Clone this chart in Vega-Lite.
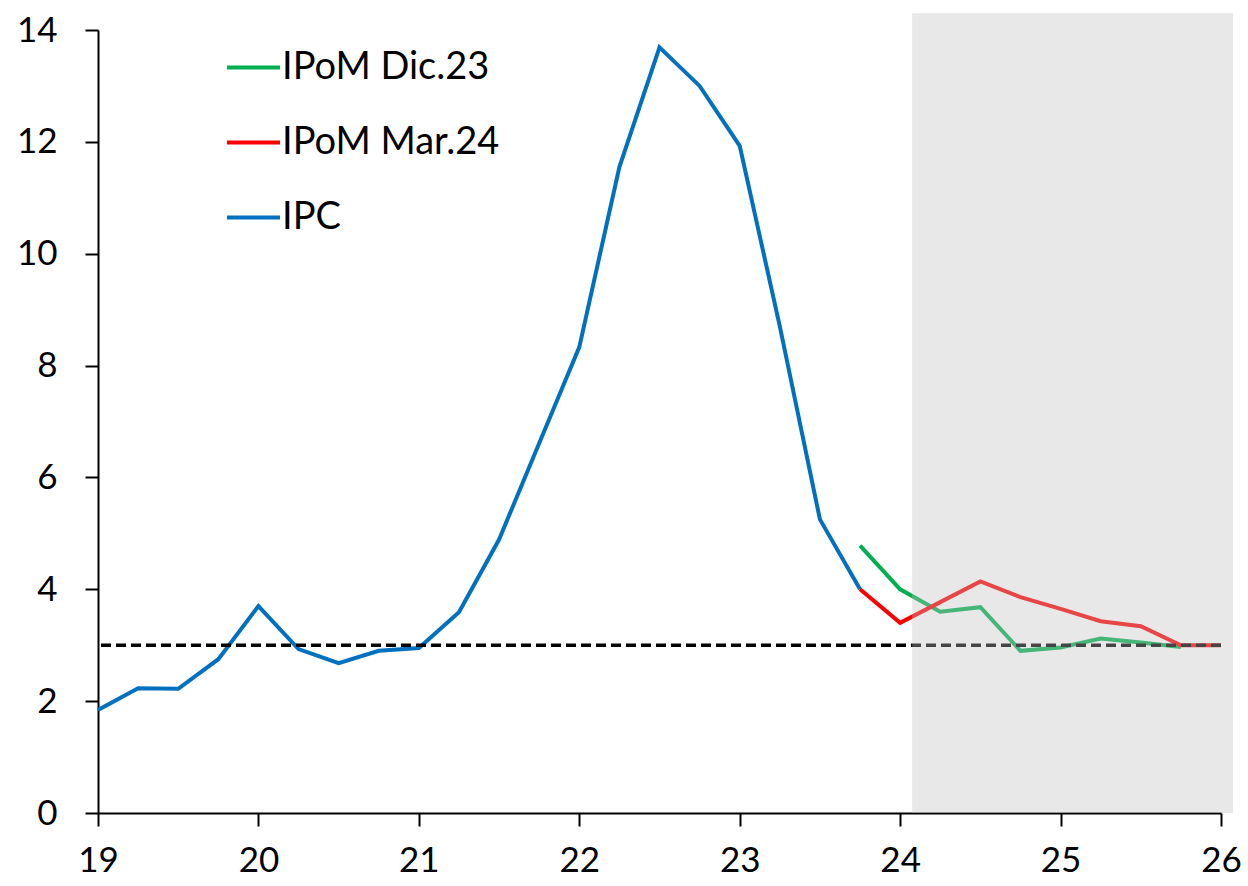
{
  "$schema": "https://vega.github.io/schema/vega-lite/v6.json",
  "width": 1123,
  "height": 783,
  "autosize": "none",
  "padding": {"left": 98, "top": 30, "right": 27, "bottom": 73},
  "background": "white",
  "config": {
    "view": {"stroke": null},
    "font": "Lato",
    "axis": {"grid": false, "domainColor": "black", "domainWidth": 2, "tickColor": "black", "tickWidth": 2, "tickSize": 13, "labelFontSize": 35, "labelColor": "black", "labelFont": "Lato", "title": null, "zindex": 1}
  },
  "datasets": {
    "series": [
      {"t": 19.0, "v": 1.84, "s": "IPC"},
      {"t": 19.25, "v": 2.23, "s": "IPC"},
      {"t": 19.5, "v": 2.22, "s": "IPC"},
      {"t": 19.75, "v": 2.75, "s": "IPC"},
      {"t": 20.0, "v": 3.70, "s": "IPC"},
      {"t": 20.25, "v": 2.93, "s": "IPC"},
      {"t": 20.5, "v": 2.68, "s": "IPC"},
      {"t": 20.75, "v": 2.90, "s": "IPC"},
      {"t": 21.0, "v": 2.95, "s": "IPC"},
      {"t": 21.25, "v": 3.59, "s": "IPC"},
      {"t": 21.5, "v": 4.89, "s": "IPC"},
      {"t": 21.75, "v": 6.61, "s": "IPC"},
      {"t": 22.0, "v": 8.33, "s": "IPC"},
      {"t": 22.25, "v": 11.55, "s": "IPC"},
      {"t": 22.5, "v": 13.69, "s": "IPC"},
      {"t": 22.75, "v": 13.0, "s": "IPC"},
      {"t": 23.0, "v": 11.93, "s": "IPC"},
      {"t": 23.25, "v": 8.7, "s": "IPC"},
      {"t": 23.5, "v": 5.25, "s": "IPC"},
      {"t": 23.75, "v": 4.0, "s": "IPC"},
      {"t": 23.75, "v": 4.78, "s": "IPoM Dic.23"},
      {"t": 24.0, "v": 4.0, "s": "IPoM Dic.23"},
      {"t": 24.25, "v": 3.60, "s": "IPoM Dic.23"},
      {"t": 24.5, "v": 3.68, "s": "IPoM Dic.23"},
      {"t": 24.75, "v": 2.90, "s": "IPoM Dic.23"},
      {"t": 25.0, "v": 2.96, "s": "IPoM Dic.23"},
      {"t": 25.25, "v": 3.12, "s": "IPoM Dic.23"},
      {"t": 25.5, "v": 3.05, "s": "IPoM Dic.23"},
      {"t": 25.75, "v": 2.97, "s": "IPoM Dic.23"},
      {"t": 23.75, "v": 4.0, "s": "IPoM Mar.24"},
      {"t": 24.0, "v": 3.40, "s": "IPoM Mar.24"},
      {"t": 24.25, "v": 3.77, "s": "IPoM Mar.24"},
      {"t": 24.5, "v": 4.14, "s": "IPoM Mar.24"},
      {"t": 24.75, "v": 3.86, "s": "IPoM Mar.24"},
      {"t": 25.0, "v": 3.65, "s": "IPoM Mar.24"},
      {"t": 25.25, "v": 3.43, "s": "IPoM Mar.24"},
      {"t": 25.5, "v": 3.34, "s": "IPoM Mar.24"},
      {"t": 25.75, "v": 3.0, "s": "IPoM Mar.24"},
      {"t": 26.0, "v": 3.0, "s": "IPoM Mar.24"}
    ],
    "one": [{}]
  },
  "layer": [
    {
      "data": {"name": "series"},
      "mark": {"type": "line", "strokeWidth": 4, "strokeJoin": "miter"},
      "encoding": {
        "x": {"field": "t", "type": "quantitative", "scale": {"domain": [19, 26], "nice": false, "zero": false},
              "axis": {"values": [19, 20, 21, 22, 23, 24, 25, 26], "format": "d", "labelPadding": 17, "labelFlush": false}},
        "y": {"field": "v", "type": "quantitative", "scale": {"domain": [0, 14], "nice": false},
              "axis": {"values": [0, 2, 4, 6, 8, 10, 12, 14], "format": "d", "labelPadding": 28}},
        "color": {"field": "s", "type": "nominal",
                  "scale": {"domain": ["IPoM Dic.23", "IPoM Mar.24", "IPC"], "range": ["#00B050", "#FF0000", "#0070C0"]},
                  "legend": {"title": null, "orient": "none", "legendX": 127, "legendY": 9, "symbolType": "stroke", "symbolSize": 2809, "symbolStrokeWidth": 4, "labelFontSize": 38, "labelFont": "Lato", "labelColor": "black", "labelOffset": 0, "labelLimit": 500, "rowPadding": 27, "padding": 0}}
      }
    },
    {
      "data": {"name": "one"},
      "mark": {"type": "rule", "color": "black", "strokeWidth": 3.5, "strokeDash": [10, 5]},
      "encoding": {"y": {"datum": 3}}
    },
    {
      "data": {"name": "one"},
      "mark": {"type": "rect", "color": "#bebebe", "opacity": 0.36},
      "encoding": {
        "x": {"datum": 24.075},
        "x2": {"datum": 26.075},
        "y": {"datum": 0},
        "y2": {"datum": 14.3}
      }
    }
  ]
}
